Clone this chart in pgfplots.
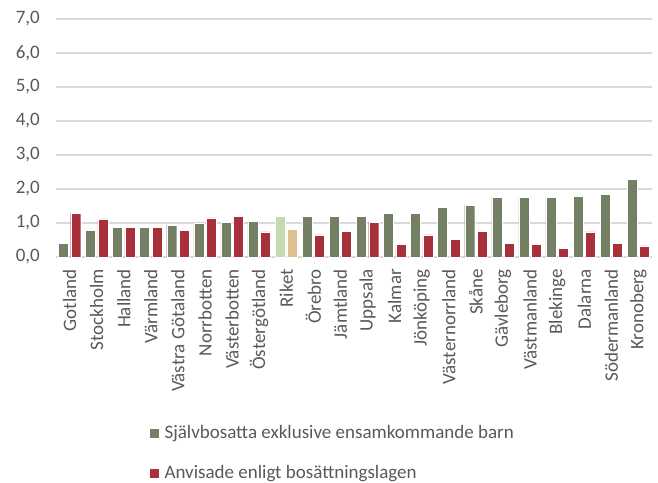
\documentclass[border=0pt]{standalone}
\usepackage{pgfplots}
\pgfplotsset{compat=1.18}
\usepackage{fontspec}
\setmainfont{Carlito}
\definecolor{grn}{HTML}{748063}
\definecolor{rd}{HTML}{A8303A}
\definecolor{lgrn}{HTML}{C6D9B0}
\definecolor{lrd}{HTML}{DFC090}
\definecolor{txt}{HTML}{595959}
\definecolor{grd}{HTML}{D9D9D9}
\begin{document}
\begin{tikzpicture}
\begin{axis}[
  scale only axis, width=596bp, height=238bp,
  xmin=-0.5, xmax=21.5, ymin=0, ymax=7,
  xtick={0,1,...,21},
  xticklabels={Gotland,Stockholm,Halland,Värmland,Västra Götaland,Norrbotten,Västerbotten,Östergötland,Riket,Örebro,Jämtland,Uppsala,Kalmar,Jönköping,Västernorrland,Skåne,Gävleborg,Västmanland,Blekinge,Dalarna,Södermanland,Kronoberg},
  xticklabel style={rotate=90, anchor=east, inner sep=0pt, font=\fontsize{19bp}{22bp}\selectfont, text=txt},
  xticklabel shift=12bp,
  ytick={0,1,...,7},
  yticklabel style={anchor=east, inner sep=0pt, font=\fontsize{19bp}{22bp}\selectfont, text=txt, xshift=-16bp},
  /pgf/number format/.cd, fixed, fixed zerofill, precision=1, use comma, assume math mode=true,
  /pgfplots/.cd,
  ymajorgrids, grid style={grd, line width=1.2bp},
  axis line style={draw=none},
  major tick style={draw=none},
  legend style={at={(0.156,-0.70)}, anchor=north west, draw=none, fill=none,
    font=\fontsize{19bp}{22bp}\selectfont, text=txt, row sep=21bp, column sep=3bp, inner sep=0pt,
    legend cell align=left},
  legend image code/.code={\fill[#1] (0bp,-5bp) rectangle (10bp,5bp);},
  clip=false,
]
\addplot[ybar, bar width=10bp, bar shift=-6.2bp, fill=grn, draw=white, line width=0.4bp] coordinates {
(0,0.41) (1,0.79) (2,0.87) (3,0.87) (4,0.94) (5,0.98) (6,1.02) (7,1.05)
(9,1.19) (10,1.19) (11,1.19) (12,1.29) (13,1.29) (14,1.47) (15,1.52) (16,1.76) (17,1.76) (18,1.76) (19,1.80) (20,1.84) (21,2.29)};
\addlegendentry{Självbosatta exklusive ensamkommande barn}
\addplot[ybar, bar width=10bp, bar shift=6.2bp, fill=rd, draw=white, line width=0.4bp] coordinates {
(0,1.29) (1,1.12) (2,0.87) (3,0.87) (4,0.79) (5,1.15) (6,1.19) (7,0.74)
(9,0.65) (10,0.76) (11,1.02) (12,0.37) (13,0.65) (14,0.51) (15,0.76) (16,0.41) (17,0.37) (18,0.26) (19,0.74) (20,0.41) (21,0.33)};
\addlegendentry{Anvisade enligt bosättningslagen}
\addplot[ybar, bar width=10bp, bar shift=-6.2bp, fill=lgrn, draw=white, line width=0.4bp, forget plot] coordinates {(8,1.19)};
\addplot[ybar, bar width=10bp, bar shift=6.2bp, fill=lrd, draw=white, line width=0.4bp, forget plot] coordinates {(8,0.83)};
\coordinate (bl) at (rel axis cs:0,0);
\end{axis}
\path (bl) ++(-56bp,-224bp) rectangle ++(658bp,481bp);
\end{tikzpicture}
\end{document}
